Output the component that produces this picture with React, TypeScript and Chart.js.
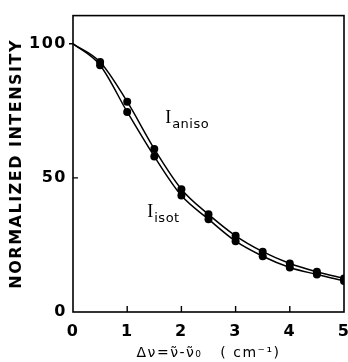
import React, { useEffect, useRef } from "react";
import { Chart, registerables } from "chart.js";

Chart.register(...registerables);

// ---- data ----
const shifts = [0, 0.5, 1, 1.5, 2, 2.5, 3, 3.5, 4, 4.5, 5];
const anisoValues = [100, 93.2, 78.4, 60.8, 45.8, 36.4, 28.4, 22.5, 18.1, 15.0, 12.5];
const isotValues = [100, 92.0, 74.6, 58.0, 43.4, 34.6, 26.4, 20.8, 16.6, 14.0, 11.6];
const xTickValues = [0, 1, 2, 3, 4, 5];
const yTickValues = [0, 50, 100];
const yTitle = "NORMALIZED INTENSITY";
const xTitle = "\u0394\u03BD=\u03BD\u0303-\u03BD\u0303\u2080   ( cm\u207B\u00B9)";
const curveLabels = [
  { main: "I", sub: "aniso", x: 1.7, y: 70.4 },
  { main: "I", sub: "isot", x: 1.37, y: 35.5 },
];

const FONT = "'DejaVu Sans', sans-serif";

const framePlugin = {
  id: "frame",
  beforeDraw(chart: any) {
    chart.ctx.letterSpacing = "1.5px";
  },
  afterDraw(chart: any) {
    const { ctx, chartArea } = chart;
    const xs = chart.scales.x;
    const ys = chart.scales.y;
    ctx.save();
    ctx.letterSpacing = "0px";
    ctx.strokeStyle = "#000";
    ctx.lineWidth = 1.6;
    ctx.strokeRect(chartArea.left, chartArea.top, chartArea.right - chartArea.left, chartArea.bottom - chartArea.top);
    ctx.lineWidth = 1.4;
    ctx.beginPath();
    xTickValues.forEach((v) => {
      if (v === 0 || v === 5) return;
      const px = xs.getPixelForValue(v);
      ctx.moveTo(px, chartArea.bottom);
      ctx.lineTo(px, chartArea.bottom - 6);
    });
    const p50 = ys.getPixelForValue(50);
    ctx.moveTo(chartArea.left, p50);
    ctx.lineTo(chartArea.left + 5, p50);
    const p100 = ys.getPixelForValue(100);
    ctx.moveTo(chartArea.left - 4, p100);
    ctx.lineTo(chartArea.left, p100);
    ctx.stroke();

    ctx.fillStyle = "#000";
    ctx.textAlign = "left";
    ctx.textBaseline = "alphabetic";
    curveLabels.forEach((l) => {
      const px = xs.getPixelForValue(l.x);
      const py = ys.getPixelForValue(l.y);
      ctx.font = "18px 'Liberation Serif', serif";
      ctx.fillText(l.main, px, py);
      const w = ctx.measureText(l.main).width;
      ctx.font = "13px " + FONT;
      ctx.letterSpacing = "0.5px";
      ctx.fillText(l.sub, px + w + 1, py + 5);
      ctx.letterSpacing = "0px";
    });
    ctx.restore();
  },
};

export default function App() {
  const ref = useRef<HTMLCanvasElement>(null);
  useEffect(() => {
    document.body.style.margin = "0";
    const canvas = ref.current!;
    const mk = (vals: number[]) => shifts.map((x, i) => ({ x, y: vals[i] }));
    const radii = shifts.map((x) => (x === 0 ? 0 : 4));
    const ds = (label: string, vals: number[]) => ({
      label,
      data: mk(vals),
      borderColor: "#000",
      backgroundColor: "#000",
      borderWidth: 1.5,
      pointRadius: radii,
      pointBackgroundColor: "#000",
      pointBorderWidth: 0,
      cubicInterpolationMode: "monotone" as const,
      fill: false,
    });
    const chart = new Chart(canvas, {
      type: "line",
      data: {
        datasets: [ds("I aniso", anisoValues), ds("I isot", isotValues)],
      },
      options: {
        animation: false,
        responsive: false,
        maintainAspectRatio: false,
        layout: { padding: { top: 13, right: 3, left: 0, bottom: 0 } },
        plugins: { legend: { display: false }, tooltip: { enabled: false } },
        scales: {
          x: {
            type: "linear",
            min: 0,
            max: 5,
            afterBuildTicks: (s: any) => {
              s.ticks = xTickValues.map((v) => ({ value: v }));
            },
            afterFit: (s: any) => {
              s.height = 50;
              s.paddingLeft = 0;
              s.paddingRight = 0;
            },
            grid: { display: false, drawTicks: false },
            border: { display: false },
            ticks: { color: "#000", font: { family: FONT, size: 16, weight: "bold" }, padding: 10, maxRotation: 0 },
            title: {
              display: true,
              text: xTitle,
              color: "#000",
              font: { family: FONT, size: 14 },
              padding: { top: 0, bottom: 0 },
            },
          },
          y: {
            type: "linear",
            min: 0,
            max: 110.5,
            afterBuildTicks: (s: any) => {
              s.ticks = yTickValues.map((v) => ({ value: v }));
            },
            afterFit: (s: any) => {
              s.width = 73;
            },
            grid: { display: false, drawTicks: false },
            border: { display: false },
            ticks: { color: "#000", font: { family: FONT, size: 16, weight: "bold" }, padding: 6 },
            title: {
              display: true,
              text: yTitle,
              color: "#000",
              font: { family: FONT, size: 16, weight: "bold" },
              padding: { top: 7, bottom: 0 },
            },
          },
        },
      },
      plugins: [framePlugin],
    });
    return () => chart.destroy();
  }, []);
  return <canvas ref={ref} width={348} height={362} style={{ display: "block" }} />;
}
